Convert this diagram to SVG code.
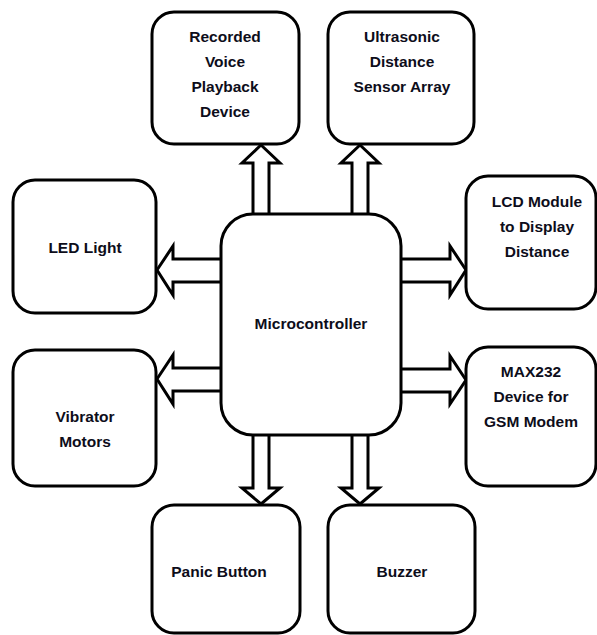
<svg xmlns="http://www.w3.org/2000/svg" width="597" height="635" viewBox="0 0 597 635">
<style>
.box{fill:#fff;stroke:#000;stroke-width:3}
.arr{fill:#fff;stroke:#000;stroke-width:3;stroke-linejoin:miter}
text{font-family:"Liberation Sans",Arial,sans-serif;font-weight:bold;font-size:15.5px;fill:#0d0d1a;text-anchor:middle}
</style>
<rect width="597" height="635" fill="#fff"/>
<g id="connectors">
<polygon class="arr" points="261,145 280,163 269,163 269,222 253,222 253,163 242,163"/>
<polygon class="arr" points="360,145 379,163 368,163 368,222 352,222 352,163 341,163"/>
<polygon class="arr" points="157,270 173,246 173,259 228,259 228,282 173,282 173,295"/>
<polygon class="arr" points="157,379 173,355 173,368 228,368 228,391 173,391 173,404"/>
<polygon class="arr" points="466,270 450,246 450,259 395,259 395,282 450,282 450,295"/>
<polygon class="arr" points="466,380 450,356 450,369 395,369 395,392 450,392 450,404"/>
<polygon class="arr" points="261,504 280,488 269,488 269,428 253,428 253,488 242,488"/>
<polygon class="arr" points="360,504 379,488 368,488 368,428 352,428 352,488 341,488"/>
</g>
<g id="micro"><rect class="box" x="221" y="214" width="180" height="221" rx="32"/><text x="311" y="329">Microcontroller</text></g>
<g id="recorded"><rect class="box" x="152" y="12" width="147" height="132" rx="22"/><text x="225" y="42">Recorded</text><text x="225" y="67">Voice</text><text x="225" y="92">Playback</text><text x="225" y="117">Device</text></g>
<g id="ultrasonic"><rect class="box" x="328" y="12" width="146" height="132" rx="22"/><text x="402" y="42">Ultrasonic</text><text x="402" y="67">Distance</text><text x="402" y="92">Sensor Array</text></g>
<g id="led"><rect class="box" x="13" y="180" width="143" height="133" rx="22"/><text x="85" y="253">LED Light</text></g>
<g id="lcd"><rect class="box" x="466" y="176" width="130" height="133" rx="22"/><text x="537" y="207">LCD Module</text><text x="537" y="232">to Display</text><text x="537" y="257">Distance</text></g>
<g id="vibrator"><rect class="box" x="13" y="350" width="143" height="136" rx="22"/><text x="85" y="422">Vibrator</text><text x="85" y="447">Motors</text></g>
<g id="max232"><rect class="box" x="466" y="347" width="130" height="139" rx="22"/><text x="531" y="377">MAX232</text><text x="531" y="402">Device for</text><text x="531" y="427">GSM Modem</text></g>
<g id="panic"><rect class="box" x="152" y="505" width="148" height="128" rx="22"/><text x="219" y="577">Panic Button</text></g>
<g id="buzzer"><rect class="box" x="328" y="505" width="147" height="128" rx="22"/><text x="402" y="577">Buzzer</text></g>
</svg>
